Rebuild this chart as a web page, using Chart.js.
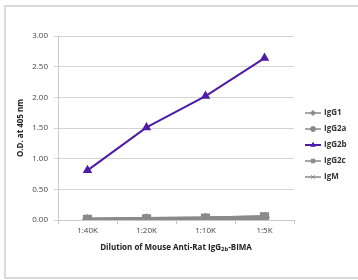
<!DOCTYPE html>
<html>
<head>
<meta charset="utf-8">
<script src="https://cdn.jsdelivr.net/npm/chart.js@4"></script>
<style>
  html, body { margin: 0; padding: 0; background: #fff; }
  #frame { position: absolute; left: 4px; top: 5px; width: 360px; height: 274px; border: 2px solid #dadada; box-sizing: border-box; }
  #wrap { position: absolute; left: 0; top: 0; width: 358px; height: 280px; }
</style>
</head>
<body>
<div id="frame"></div>
<div id="wrap"><canvas id="odChart"></canvas></div>
<script>
// dilutions on the x axis
const dilutions = ['1:40K', '1:20K', '1:10K', '1:5K'];

// O.D. at 405 nm per isotype
const igg1 = [0.01, 0.02, 0.02, 0.04];
const igg2a = [0.01, 0.02, 0.03, 0.05];
const igg2b = [0.81, 1.51, 2.02, 2.64];
const igg2c = [0.01, 0.02, 0.03, 0.05];
const igm = [0.00, 0.01, 0.02, 0.03];

const yTicks = [0, 0.5, 1, 1.5, 2, 2.5, 3];

const fontFam = '"Open Sans", "Noto Sans", sans-serif';
const grey = '#8a8a8a';
const purple = '#4f1ca6';

// legend drawn as line + marker, like the original
const sideLegend = {
    id: 'sideLegend',
    afterDraw(chart) {
        const ctx = chart.ctx;
        const x0 = 305, y0 = 113, step = 16;
        ctx.save();
        chart.data.datasets.forEach((ds, i) => {
            const y = y0 + i * step;
            ctx.strokeStyle = ds.borderColor;
            ctx.lineWidth = ds.label === 'IgG2b' ? 2 : 1.5;
            ctx.beginPath();
            ctx.moveTo(x0, y);
            ctx.lineTo(x0 + 16, y);
            ctx.stroke();
            ctx.fillStyle = ds.borderColor;
            ctx.lineWidth = 1;
            Chart.helpers.drawPoint(ctx, { pointStyle: ds.pointStyle, radius: 2.5, borderWidth: 1 }, x0 + 8, y);
            ctx.fillStyle = '#333';
            ctx.font = 'bold 8px ' + fontFam;
            ctx.textBaseline = 'middle';
            ctx.textAlign = 'left';
            ctx.fillText(ds.label, x0 + 19, y);
        });
        ctx.restore();
    }
};

// x title with the subscript "2b"
const xTitle = {
    id: 'xTitle',
    afterDraw(chart) {
        const ctx = chart.ctx;
        const a = chart.chartArea;
        const parts = [
            ['Dilution of Mouse Anti-Rat IgG', 'bold 8px ' + fontFam, 0],
            ['2b', 'bold 6px ' + fontFam, 1.5],
            ['-BIMA', 'bold 8px ' + fontFam, 0]
        ];
        ctx.save();
        let w = 0;
        parts.forEach(p => { ctx.font = p[1]; w += ctx.measureText(p[0]).width; });
        let x = (a.left + a.right) / 2 - w / 2;
        const y = 248;
        ctx.fillStyle = '#222';
        ctx.textBaseline = 'middle';
        parts.forEach(p => {
            ctx.font = p[1];
            ctx.fillText(p[0], x, y + p[2]);
            x += ctx.measureText(p[0]).width;
        });
        ctx.restore();
    }
};

function line(label, data, color, style, width, r) {
    return {
        label: label,
        data: data,
        borderColor: color,
        backgroundColor: color,
        borderWidth: width,
        pointStyle: style,
        pointRadius: r,
        pointHoverRadius: r,
        tension: 0
    };
}

new Chart(document.getElementById('odChart'), {
    type: 'line',
    data: {
        labels: dilutions,
        datasets: [
            line('IgG1', igg1, grey, 'rectRot', 3.5, 3),
            line('IgG2a', igg2a, grey, 'circle', 3.5, 3),
            line('IgG2b', igg2b, purple, 'triangle', 2, 3.5),
            line('IgG2c', igg2c, grey, 'rect', 3.5, 4),
            line('IgM', igm, grey, 'crossRot', 3.5, 3)
        ]
    },
    options: {
        responsive: true,
        maintainAspectRatio: false,
        animation: false,
        layout: { padding: { left: 16, right: 64, top: 36, bottom: 0 } },
        plugins: {
            legend: { display: false },
            tooltip: { enabled: false }
        },
        scales: {
            x: {
                offset: true,
                grid: { display: true, drawOnChartArea: false, offset: true, tickLength: 4, color: '#c8c8c8' },
                border: { color: '#c8c8c8' },
                ticks: { color: '#444', font: { family: fontFam, size: 8 }, padding: 2 },
                afterFit(s) { s.height = 60; }
            },
            y: {
                min: 0,
                max: 3,
                afterBuildTicks(s) { s.ticks = yTicks.map(v => ({ value: v })); },
                grid: { color: '#d4d4d4', tickLength: 4 },
                border: { color: '#c8c8c8' },
                ticks: {
                    color: '#444',
                    font: { family: fontFam, size: 8 },
                    padding: 6,
                    callback: v => v.toFixed(2)
                },
                title: {
                    display: true,
                    text: 'O.D. at 405 nm',
                    color: '#222',
                    font: { family: fontFam, size: 8, weight: 'bold' },
                    padding: { top: 0, bottom: 4 }
                },
                afterFit(s) { s.width = 42; }
            }
        }
    },
    plugins: [sideLegend, xTitle]
});
</script>
</body>
</html>
